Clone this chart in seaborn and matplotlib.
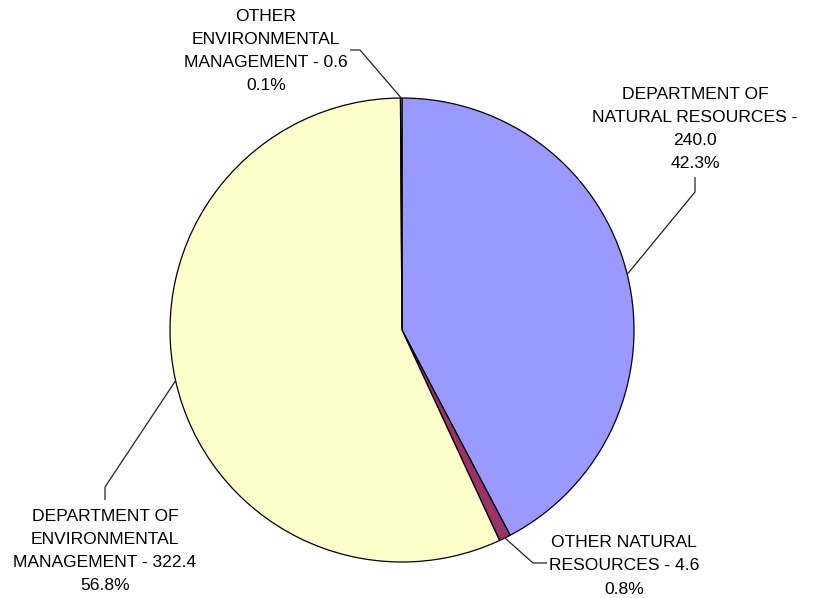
import matplotlib

matplotlib.use("Agg")
import matplotlib.pyplot as plt
import numpy as np
import seaborn as sns

# data
categories = [
    "DEPARTMENT OF\nNATURAL RESOURCES",
    "OTHER NATURAL\nRESOURCES",
    "DEPARTMENT OF\nENVIRONMENTAL\nMANAGEMENT",
    "OTHER\nENVIRONMENTAL\nMANAGEMENT",
]
values = [240.0, 4.6, 322.4, 0.6]
value_sep = ["\n", " ", " ", " "]
colors = ["#9999FF", "#993366", "#FFFFCC", "#CCFFFF"]

# layout (pixel coords, origin top-left)
W, H = 814, 598
CENTER = (402, 330)
RADIUS = 232
label_pos = [(695, 129), (624, 566), (105, 551), (266, 51)]
elbow_pos = [(695, 192), (533, 563), (105, 487), (360, 50)]
end_pos = [(695, 177), (547, 563), (105, 500), (350, 50)]


def flip(p):
    return (p[0], H - p[1])


sns.set_theme(style="white")
plt.rcParams["font.family"] = ["Liberation Sans", "DejaVu Sans"]

fig = plt.figure(figsize=(W / 100, H / 100), dpi=100)
ax = fig.add_axes([0, 0, 1, 1])

cx, cy = flip(CENTER)
wedges, _ = ax.pie(
    values,
    colors=colors,
    startangle=90,
    counterclock=False,
    center=(cx, cy),
    radius=RADIUS,
    wedgeprops=dict(edgecolor="black", linewidth=0.9),
    frame=True,
)
ax.set_xlim(0, W)
ax.set_ylim(0, H)
ax.set_aspect("equal")
ax.axis("off")

total = sum(values)
for i, w in enumerate(wedges):
    mid = np.deg2rad((w.theta1 + w.theta2) / 2)
    anchor = (cx + RADIUS * np.cos(mid), cy + RADIUS * np.sin(mid))
    e = flip(elbow_pos[i])
    t = flip(end_pos[i])
    ax.plot([anchor[0], e[0], t[0]], [anchor[1], e[1], t[1]],
            color="#222222", lw=0.9, solid_capstyle="butt")
    pct = values[i] / total * 100
    txt = f"{categories[i]} -{value_sep[i]}{values[i]:.1f}\n{pct:.1f}%"
    lx, ly = flip(label_pos[i])
    ax.text(lx, ly, txt, ha="center", va="center", ma="center",
            fontsize=12.6, color="black", linespacing=1.68)

fig.savefig("out.png", dpi=100, facecolor="white")
